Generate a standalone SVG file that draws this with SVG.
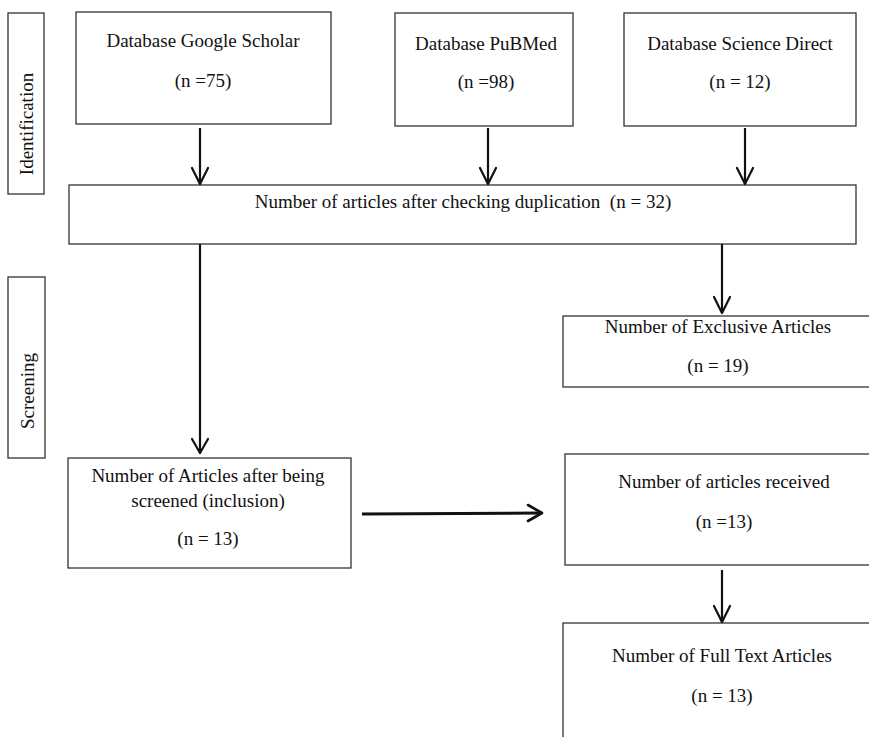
<svg xmlns="http://www.w3.org/2000/svg" width="869" height="737" viewBox="0 0 869 737">
<style>
.box{fill:#fff;stroke:#333;stroke-width:1.3}
text{font-family:"Liberation Serif","Times New Roman",serif;font-size:19px;fill:#111;text-anchor:middle;white-space:pre}
.c{stroke:#111;stroke-width:2.2;fill:none}
.h{fill:none;stroke:#111;stroke-width:2.2;stroke-linecap:round;stroke-linejoin:round}
</style>
<rect width="869" height="737" fill="#fff"/>
<g id="label-identification"><rect class="box" x="8" y="13" width="36" height="181"/><text transform="translate(33,124) rotate(-90)">Identification</text></g>
<g id="label-screening"><rect class="box" x="8" y="277" width="37" height="181"/><text transform="translate(34,391) rotate(-90)">Screening</text></g>
<g id="google"><rect class="box" x="76" y="12" width="255" height="112"/><text x="203" y="47">Database Google Scholar</text><text x="203" y="87">(n =75)</text></g>
<g id="pubmed"><rect class="box" x="395" y="13" width="178" height="113"/><text x="486" y="50">Database PuBMed</text><text x="486" y="88">(n =98)</text></g>
<g id="sciencedirect"><rect class="box" x="624" y="13" width="232" height="113"/><text x="740" y="50">Database Science Direct</text><text x="740" y="88">(n = 12)</text></g>
<g id="duplication"><rect class="box" x="69" y="185" width="787" height="59"/><text x="463" y="208">Number of articles after checking duplication  (n = 32)</text></g>
<g id="exclusive"><rect class="box" x="563" y="316" width="310" height="71"/><text x="718" y="333">Number of Exclusive Articles</text><text x="718" y="372">(n = 19)</text></g>
<g id="inclusion"><rect class="box" x="68" y="458" width="283" height="110"/><text x="208" y="482">Number of Articles after being</text><text x="208" y="507">screened (inclusion)</text><text x="208" y="545">(n = 13)</text></g>
<g id="received"><rect class="box" x="565" y="454" width="310" height="111"/><text x="724" y="488">Number of articles received</text><text x="724" y="528">(n =13)</text></g>
<g id="fulltext"><rect class="box" x="563" y="623" width="310" height="120"/><text x="722" y="662">Number of Full Text Articles</text><text x="722" y="702">(n = 13)</text></g>
<g id="connectors">
<line class="c" x1="200" y1="128" x2="200" y2="184"/><path class="h" d="M192,168 L200,184 L208,168"/>
<line class="c" x1="488" y1="128" x2="488" y2="184"/><path class="h" d="M480,168 L488,184 L496,168"/>
<line class="c" x1="745" y1="128" x2="745" y2="184"/><path class="h" d="M737,168 L745,184 L753,168"/>
<line class="c" x1="200" y1="244" x2="200" y2="453"/><path class="h" d="M192,439 L200,453 L208,439"/>
<line class="c" x1="722" y1="244" x2="722" y2="313"/><path class="h" d="M714,297 L722,313 L730,297"/>
<line class="c" x1="722" y1="570" x2="722" y2="622"/><path class="h" d="M714,606 L722,622 L730,606"/>
<line class="c" style="stroke-width:3" x1="362" y1="514" x2="541" y2="513"/><path class="h" style="stroke-width:2.6" d="M528,505 L542,513 L528,521"/>
</g>
</svg>
